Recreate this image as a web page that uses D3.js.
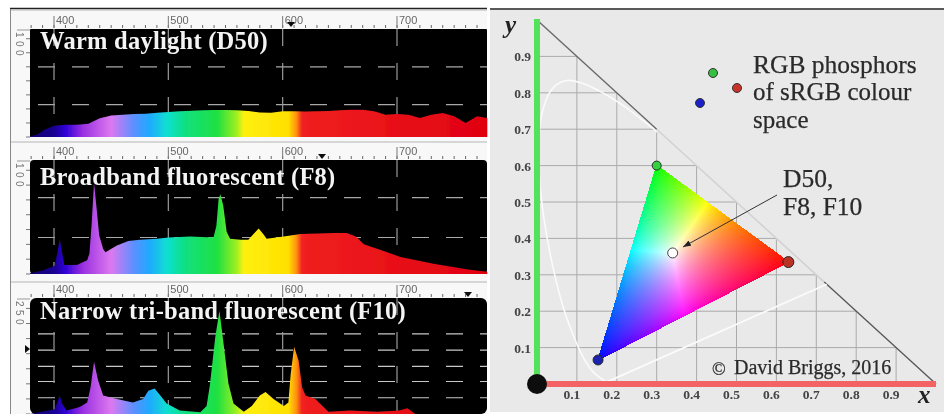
<!DOCTYPE html>
<html>
<head>
<meta charset="utf-8">
<script src="https://cdn.jsdelivr.net/npm/d3@7"></script>
<style>
html, body { margin: 0; padding: 0; background: #fff; }
svg { display: block; }
text { font-family: "Liberation Serif", serif; }
</style>
</head>
<body>
<svg id="chart" width="944" height="414"></svg>
<script>
// spectra, wavelength (nm) and relative height (% of the plot)
const d50_nm = [379,385,392,400,410,420,430,440,450,460,470,480,490,500,510,520,530,540,550,560,570,580,590,600,610,620,630,640,650,660,670,680,690,700,710,720,730,740,750,760,770,779]
const d50_val = [0.6,2,7,10.5,11.4,11.4,12.3,17.3,20,20.7,21.3,21.6,22.5,23.1,23.8,24.4,24.7,25,25,24.7,24,22.8,22.5,23.8,23.8,23.5,23.8,24,24.7,25.3,25.3,23.8,20.7,21.3,20.7,17.6,20.7,22.2,19.1,13,19.1,17.6]

const f8_nm = [379,390,397,400.5,403,405,407,409,420,429,431,433,435,437,439.5,443,445,455,465,475,490,500,519,539.5,542,544,545.5,548,551,554,563,570,574.5,579,583,586,601,615.5,645,656,664,671,689,703,732,762,779]
const f8_val = [0.6,3,6,7,19,31,19,8,8,12,18,45,80,60,34,22,19,25,29,30,31,32,33,32,42,66,70,60,37,31,30,30,35,40,35,31,33,35,36,36,33,26,20,15,9,4,2]

const f10_nm = [379,400.5,403,405,407,411,422.5,429,432,435,438.5,443,455,469,478,482.5,488,493,498.5,510,528,533.5,536.5,541,544.7,548,552.6,557,566,573,580,585,592,601,605,607,610,614,617,620,628.6,640,659,683,702,709,716,779]
const f10_val = [0,4,10,16,9,3,6,10,23,45,29,16,13,10,13,20,22,16,9,3,1.5,7,26,66,89,63,26,9,2,7,16,19,13,7,10,34,58,46,23,16,13,2,3,2,3,5,0,0]

const d50_grid = [30, 65]
const f8_grid = [32, 67]
const f10_grid = [14, 28, 41, 55, 69]

const wave_ticks = [400, 500, 600, 700]
const grad_nm = [379,400,410,425,450,470,483,499,515,543,560,566,605,612,617,779]
const grad_col = ["#100070","#1a0090","#3000d8","#9a30e0","#dc78f0","#5a90ff","#20a8ff","#10e0d0","#10e080","#20e040","#a0f020","#fff010","#ffe000","#ff9010","#f02020","#e00010"]

// CIE 1931 chromaticity, 380 nm up to 550 nm, the rest runs along the diagonal
const locus_x = [.1741,.1440,.1241,.1096,.0913,.0687,.0454,.0235,.0082,.0039,.0139,.0389,.0743,.1142,.1547,.1929,.2296,.3016]
const locus_y = [.0050,.0297,.0578,.0868,.1327,.2007,.2950,.4127,.5384,.6548,.7502,.8120,.8338,.8262,.8059,.7816,.7543,.6923]
const purple_x = [.1741, .7260]
const purple_y = [.0050, .2740]
const grid_ticks = [.1,.2,.3,.4,.5,.6,.7,.8,.9]
const primaries = [
  {x: .63, y: .335, c: "#b83028", r: 5.5},
  {x: .30, y: .60, c: "#35d040", r: 4.5},
  {x: .153, y: .066, c: "#1a20b0", r: 5}
]
const white_pt = {x: .34, y: .36}
const phosphor_key = [
  {c: "#35c040", dx: 713, dy: 73},
  {c: "#1a20c8", dx: 700, dy: 103},
  {c: "#c8302a", dx: 737, dy: 88}
]

const svg = d3.select("#chart")
const defs = svg.append("defs")

const wave = d3.scaleLinear().domain([400, 700]).range([54, 397])

const grad = defs.append("linearGradient")
    .attr("id", "spectrum")
    .attr("gradientUnits", "userSpaceOnUse")
    .attr("x1", wave(379)).attr("x2", wave(779))
    .attr("y1", 0).attr("y2", 0)
grad.selectAll("stop").data(grad_nm).join("stop")
    .attr("offset", d => (d - 379) / 400)
    .attr("stop-color", (d, i) => grad_col[i])

defs.append("filter").attr("id", "soft")
    .append("feGaussianBlur").attr("stdDeviation", 0.6)

const left = svg.append("g").attr("filter", "url(#soft)")

left.append("rect").attr("x", 10).attr("y", 9).attr("width", 477).attr("height", 405).attr("fill", "#f8f8f8")
left.append("line").attr("x1", 10).attr("x2", 487).attr("y1", 8.5).attr("y2", 8.5).attr("stroke", "#222").attr("stroke-width", 1.5)
left.append("line").attr("x1", 10.5).attr("x2", 10.5).attr("y1", 9).attr("y2", 414).attr("stroke", "#888")

const panels = [
  {top: 9, plotTop: 29, bottom: 137, rx: 1, nm: d50_nm, val: d50_val, grid: d50_grid, dash: "#a8a8a8", name: "Warm daylight (D50)", base: 49, scale: "100", mark: [291, 24]},
  {top: 141, plotTop: 160, bottom: 274, rx: 4, nm: f8_nm, val: f8_val, grid: f8_grid, dash: "#a8a8a8", name: "Broadband fluorescent (F8)", base: 185, scale: "100", mark: [322, 156]},
  {top: 281, plotTop: 298, bottom: 414, rx: 6, nm: f10_nm, val: f10_val, grid: f10_grid, dash: "#c8c8c8", name: "Narrow tri-band fluorescent (F10)", base: 319, scale: "250", mark: [468, 294]}
]

panels.forEach(p => {
    const y = d3.scaleLinear().domain([0, 100]).range([p.bottom, p.plotTop])
    const g = left.append("g")

    g.append("line").attr("x1", 11).attr("x2", 487).attr("y1", p.top + 1).attr("y2", p.top + 1).attr("stroke", "#b4b4b4")
    g.append("rect").attr("x", 30).attr("y", p.plotTop).attr("width", 457).attr("height", p.bottom - p.plotTop).attr("rx", p.rx).attr("fill", "#000")

    // ruler
    g.selectAll(".minor").data(d3.range(380, 780, 10)).join("line")
        .attr("x1", d => wave(d)).attr("x2", d => wave(d))
        .attr("y1", p.plotTop - 4).attr("y2", p.plotTop - 1)
        .attr("stroke", "#666")
    g.selectAll(".major").data(wave_ticks).join("line")
        .attr("x1", d => wave(d)).attr("x2", d => wave(d))
        .attr("y1", p.plotTop - 13).attr("y2", p.plotTop - 1)
        .attr("stroke", "#777")
    g.selectAll(".lab").data(wave_ticks).join("text")
        .attr("x", d => wave(d) + 2).attr("y", p.plotTop - 5)
        .attr("font-size", 11).attr("fill", "#666")
        .style("font-family", "Liberation Sans")
        .text(d => d)

    g.selectAll(".lefttick").data(d3.range(0, 100, 13)).join("line")
        .attr("x1", 26).attr("x2", 30)
        .attr("y1", d => y(d)).attr("y2", d => y(d))
        .attr("stroke", "#777")
    g.append("line").attr("x1", 17).attr("x2", 30).attr("y1", p.plotTop + 1).attr("y2", p.plotTop + 1).attr("stroke", "#999")
    g.append("text")
        .attr("transform", `translate(16, ${p.plotTop + 3}) rotate(90)`)
        .attr("font-size", 10).attr("letter-spacing", 3.5).attr("fill", "#777")
        .style("font-family", "Liberation Sans")
        .text(p.scale)

    // dashed grid
    g.selectAll(".hgrid").data(p.grid).join("line")
        .attr("x1", 38).attr("x2", 487)
        .attr("y1", d => y(d)).attr("y2", d => y(d))
        .attr("stroke", p.dash).attr("stroke-width", 1.2)
        .attr("stroke-dasharray", "17 17")
    g.selectAll(".vgrid").data(wave_ticks).join("line")
        .attr("x1", d => wave(d)).attr("x2", d => wave(d))
        .attr("y1", p.plotTop).attr("y2", p.bottom)
        .attr("stroke", "#999").attr("stroke-width", 1.2)
        .attr("stroke-dasharray", "17 17")

    const area = d3.area()
        .x((d, i) => wave(p.nm[i]))
        .y0(p.bottom)
        .y1(d => y(d))
    g.append("path").datum(p.val).attr("d", area).attr("fill", "url(#spectrum)")

    g.append("path")
        .attr("transform", `translate(${p.mark[0]}, ${p.mark[1]})`)
        .attr("d", "M-4,-2L4,-2L0,3Z").attr("fill", "#111")

    g.append("text")
        .attr("x", 40).attr("y", p.base)
        .attr("font-size", 24.5).attr("font-weight", "bold").attr("letter-spacing", 0.25)
        .attr("fill", "#f4f4f4")
        .text(p.name)
})
left.append("path").attr("transform", "translate(27, 349)").attr("d", "M-2,-4L3,0L-2,4Z").attr("fill", "#111")

// xy diagram
const right = svg.append("g").attr("filter", "url(#soft)")
const cx = d3.scaleLinear().domain([0, 1]).range([537, 936])
const cy = d3.scaleLinear().domain([0, 1]).range([384, 20])

right.append("rect").attr("x", 490).attr("y", 10).attr("width", 454).attr("height", 402).attr("fill", "#e9e9e9")
right.append("line").attr("x1", 490).attr("x2", 944).attr("y1", 9).attr("y2", 9).attr("stroke", "#222").attr("stroke-width", 1.5)

right.selectAll(".gx").data(grid_ticks).join("line")
    .attr("x1", d => cx(d)).attr("x2", d => cx(d))
    .attr("y1", cy(0)).attr("y2", d => cy(1 - d))
    .attr("stroke", "#aaa")
right.selectAll(".gy").data(grid_ticks).join("line")
    .attr("x1", cx(0)).attr("x2", d => cx(1 - d))
    .attr("y1", d => cy(d)).attr("y2", d => cy(d))
    .attr("stroke", "#aaa")

right.append("line").attr("x1", cx(0)).attr("y1", cy(1)).attr("x2", cx(.3)).attr("y2", cy(.7)).attr("stroke", "#666").attr("stroke-width", 1.3)
right.append("line").attr("x1", cx(.3)).attr("y1", cy(.7)).attr("x2", cx(.72)).attr("y2", cy(.28)).attr("stroke", "#d2d2d2").attr("stroke-width", 1.5)
right.append("line").attr("x1", cx(.72)).attr("y1", cy(.28)).attr("x2", cx(1)).attr("y2", cy(0)).attr("stroke", "#555").attr("stroke-width", 1.3)

right.append("path").datum(locus_y)
    .attr("d", d3.line().curve(d3.curveCatmullRom).x((d, i) => cx(locus_x[i])).y(d => cy(d)))
    .attr("fill", "none").attr("stroke", "#fbfbfb").attr("stroke-width", 1.6)
right.append("path").datum(purple_y)
    .attr("d", d3.line().x((d, i) => cx(purple_x[i])).y(d => cy(d)))
    .attr("fill", "none").attr("stroke", "#fbfbfb").attr("stroke-width", 1.8)

// gamut triangle painted per pixel, full brightness, balanced on the white point
const [R, G, B] = primaries
const det = (G.y - B.y) * (R.x - B.x) + (B.x - G.x) * (R.y - B.y)
const bary = (x, y) => {
    const a = ((G.y - B.y) * (x - B.x) + (B.x - G.x) * (y - B.y)) / det
    const b = ((B.y - R.y) * (x - B.x) + (R.x - B.x) * (y - B.y)) / det
    return [a, b, 1 - a - b]
}
const wb = bary(white_pt.x, white_pt.y)
const x0 = Math.floor(cx(B.x)), x1 = Math.ceil(cx(R.x))
const y0 = Math.floor(cy(G.y)), y1 = Math.ceil(cy(B.y))
const canvas = document.createElement("canvas")
canvas.width = x1 - x0
canvas.height = y1 - y0
const ctx = canvas.getContext("2d")
const img = ctx.createImageData(canvas.width, canvas.height)
for (let j = 0; j < canvas.height; j++) {
    for (let i = 0; i < canvas.width; i++) {
        const w = bary(cx.invert(x0 + i + .5), cy.invert(y0 + j + .5))
        if (Math.min(...w) < -0.004) continue
        const c = w.map((v, k) => Math.max(v, 0) / wb[k])
        const m = Math.max(...c)
        const o = (j * canvas.width + i) * 4
        c.forEach((v, k) => { img.data[o + k] = 255 * Math.pow(v / m, 1 / 1.4) })
        img.data[o + 3] = 255
    }
}
ctx.putImageData(img, 0, 0)
right.append("image")
    .attr("x", x0).attr("y", y0)
    .attr("width", canvas.width).attr("height", canvas.height)
    .attr("href", canvas.toDataURL())

// axes
right.append("line").attr("x1", cx(0)).attr("x2", cx(0)).attr("y1", cy(1) - 1).attr("y2", cy(0))
    .attr("stroke", "#52e25a").attr("stroke-width", 6)
right.append("line").attr("x1", cx(0)).attr("x2", cx(1)).attr("y1", cy(0)).attr("y2", cy(0))
    .attr("stroke", "#f46464").attr("stroke-width", 6)
right.append("circle").attr("cx", cx(0)).attr("cy", cy(0)).attr("r", 10).attr("fill", "#111")

const tickFont = s => s.attr("font-size", 13.5).attr("font-weight", "bold").attr("fill", "#444")
right.selectAll(".ty").data(grid_ticks).join("text")
    .attr("x", 531).attr("y", d => cy(d) + 5)
    .attr("text-anchor", "end")
    .call(tickFont)
    .text(d => d.toFixed(1))
right.selectAll(".tx").data(grid_ticks).join("text")
    .attr("x", d => cx(d) - 5).attr("y", 399)
    .attr("text-anchor", "middle")
    .call(tickFont)
    .text(d => d.toFixed(1))

right.append("text").attr("x", 505).attr("y", 33).attr("font-size", 25).attr("font-style", "italic").attr("font-weight", "bold").attr("fill", "#222").text("y")
right.append("text").attr("x", 918).attr("y", 403).attr("font-size", 25).attr("font-style", "italic").attr("font-weight", "bold").attr("fill", "#222").text("x")

// phosphors
right.selectAll(".prim").data(primaries).join("circle")
    .attr("cx", d => cx(d.x)).attr("cy", d => cy(d.y)).attr("r", d => d.r)
    .attr("fill", d => d.c).attr("stroke", "#2a2a2a").attr("stroke-width", 1)
right.selectAll(".key").data(phosphor_key).join("circle")
    .attr("cx", d => d.dx).attr("cy", d => d.dy).attr("r", 4.5)
    .attr("fill", d => d.c).attr("stroke", "#333").attr("stroke-width", 1)

right.append("circle").attr("cx", cx(white_pt.x)).attr("cy", cy(white_pt.y)).attr("r", 5)
    .attr("fill", "#fff").attr("stroke", "#444").attr("stroke-width", 1)

defs.append("marker").attr("id", "head").attr("viewBox", "0 0 8 6").attr("refX", 8).attr("refY", 3)
    .attr("markerWidth", 8).attr("markerHeight", 6).attr("orient", "auto")
    .append("path").attr("d", "M0,0L8,3L0,6Z").attr("fill", "#222")
right.append("line").attr("x1", 777).attr("y1", 195).attr("x2", 683).attr("y2", 247)
    .attr("stroke", "#333").attr("stroke-width", 1).attr("marker-end", "url(#head)")

const note = (txt, x, y, size) => right.append("text").attr("x", x).attr("y", y)
    .attr("font-size", size).attr("fill", "#2b2b2b").attr("stroke", "#2b2b2b").attr("stroke-width", 0.25).text(txt)
note("RGB phosphors", 753, 73, 25.5)
note("of sRGB colour", 753, 100, 25)
note("space", 753, 128, 25)
note("D50,", 783, 187, 25.5)
note("F8, F10", 783, 215, 25.5)
note("©", 712, 375, 18)
note("David Briggs, 2016", 734, 374, 20)
</script>
</body>
</html>
